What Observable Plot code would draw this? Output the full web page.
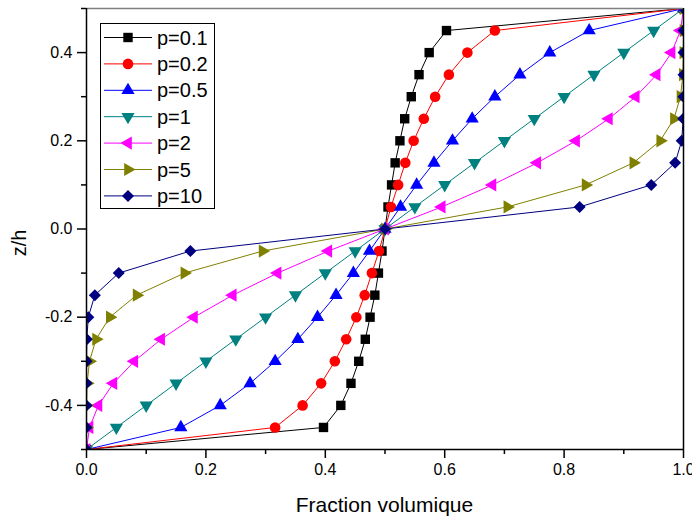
<!DOCTYPE html>
<html>
<head>
<meta charset="utf-8">
<script src="https://cdn.jsdelivr.net/npm/d3@7"></script>
<script src="https://cdn.jsdelivr.net/npm/@observablehq/plot@0.6"></script>
<style>
  html, body { margin: 0; padding: 0; background: #fff; }
  #chart { width: 692px; height: 519px; }
</style>
</head>
<body>
<div id="chart"></div>
<script>
// ---- data ----
const zValues = [-0.5, -0.45, -0.4, -0.35, -0.3, -0.25, -0.2, -0.15, -0.1, -0.05, 0, 0.05, 0.1, 0.15, 0.2, 0.25, 0.3, 0.35, 0.4, 0.45, 0.5];
const seriesNames = ["p=0.1", "p=0.2", "p=0.5", "p=1", "p=2", "p=5", "p=10"];
const vP01 = [0, 0.397, 0.426, 0.443, 0.456, 0.467, 0.475, 0.483, 0.489, 0.495, 0.5, 0.505, 0.511, 0.517, 0.525, 0.533, 0.544, 0.557, 0.574, 0.603, 1];
const vP02 = [0, 0.316, 0.362, 0.393, 0.416, 0.435, 0.452, 0.466, 0.478, 0.490, 0.5, 0.510, 0.522, 0.534, 0.548, 0.565, 0.584, 0.607, 0.638, 0.684, 1];
const vP05 = [0, 0.158, 0.224, 0.274, 0.316, 0.354, 0.387, 0.418, 0.447, 0.474, 0.5, 0.526, 0.553, 0.582, 0.613, 0.646, 0.684, 0.726, 0.776, 0.842, 1];
const vP1  = [0, 0.05, 0.10, 0.15, 0.20, 0.25, 0.30, 0.35, 0.40, 0.45, 0.5, 0.55, 0.60, 0.65, 0.70, 0.75, 0.80, 0.85, 0.90, 0.95, 1];
const vP2  = [0, 0.005, 0.02, 0.045, 0.08, 0.125, 0.18, 0.245, 0.32, 0.405, 0.5, 0.595, 0.68, 0.755, 0.82, 0.875, 0.92, 0.955, 0.98, 0.995, 1];
const vP5  = [0, 0.0, 0.0002, 0.001, 0.005, 0.016, 0.039, 0.084, 0.164, 0.295, 0.5, 0.705, 0.836, 0.916, 0.961, 0.984, 0.995, 0.999, 0.9998, 1.0, 1];
const vP10 = [0, 0, 0, 0, 0.0001, 0.0005, 0.003, 0.014, 0.054, 0.174, 0.5, 0.826, 0.946, 0.986, 0.997, 0.9995, 0.9999, 1, 1, 1, 1];
const seriesValues = [vP01, vP02, vP05, vP1, vP2, vP5, vP10];
const xMajorTicks = [0, 0.2, 0.4, 0.6, 0.8, 1.0];
const xMinorTicks = [0.1, 0.3, 0.5, 0.7, 0.9];
const yMajorTicks = [-0.4, -0.2, 0, 0.2, 0.4];
const yMinorTicks = [-0.5, -0.3, -0.1, 0.1, 0.3, 0.5];
const xTitle = "Fraction volumique";
const yTitle = "z/h";

// ---- styles ----
const colors = ["#000000", "#ff0000", "#0000ff", "#008080", "#ff00ff", "#808000", "#000080"];
const shapes = ["square", "circle", "tri-up", "tri-down", "tri-left", "tri-right", "diamond"];
const radii = [5.3, 5.3, 4.9, 4.9, 4.9, 4.9, 4.8];

function makeSymbol(kind) {
  if (kind === "square") return d3.symbolSquare;
  if (kind === "circle") return d3.symbolCircle;
  if (kind === "diamond") return {
    draw(ctx, size) {
      const R = Math.sqrt(size / 2);
      ctx.moveTo(0, -R); ctx.lineTo(R, 0); ctx.lineTo(0, R); ctx.lineTo(-R, 0); ctx.closePath();
    }
  };
  const ang = {"tri-up": -90, "tri-down": 90, "tri-left": 180, "tri-right": 0}[kind] * Math.PI / 180;
  return {
    draw(ctx, size) {
      const a = Math.sqrt(4 * size / Math.sqrt(3));
      const R = a / Math.sqrt(3);
      for (let k = 0; k < 3; k++) {
        const t = ang + k * 2 * Math.PI / 3;
        const px = R * Math.cos(t), py = R * Math.sin(t);
        if (k === 0) ctx.moveTo(px, py); else ctx.lineTo(px, py);
      }
      ctx.closePath();
    }
  };
}

const tables = seriesValues.map((vals, i) => zValues.map((z, j) => ({z, v: vals[j], s: seriesNames[i]})));

const W = 692, H = 519;
const mL = 86, mR = 9, mT = 8, mB = 70;

const marks = [];
tables.forEach((tbl, i) => {
  marks.push(Plot.line(tbl, {x: "v", y: "z", stroke: colors[i], strokeWidth: 1, clip: true}));
  marks.push(Plot.dot(tbl, {x: "v", y: "z", fill: colors[i], stroke: "none", r: radii[i], symbol: makeSymbol(shapes[i]), clip: true}));
});
marks.push(Plot.ruleY([0.5], {stroke: "#808080", strokeWidth: 1.5}));
marks.push(Plot.ruleX([1], {stroke: "#000", strokeWidth: 1.5}));
marks.push(Plot.ruleX([0], {stroke: "#000", strokeWidth: 1.5}));
marks.push(Plot.ruleY([-0.5], {stroke: "#000", strokeWidth: 1.5}));
marks.push(Plot.axisX(xMajorTicks, {tickSize: 9, tickPadding: 5, strokeWidth: 1.5, tickFormat: d => d.toFixed(1), label: null, fontSize: 16}));
marks.push(Plot.axisX(xMinorTicks, {tickSize: 5, strokeWidth: 1.5, text: null, label: null}));
marks.push(Plot.axisY(yMajorTicks, {tickSize: 9, tickPadding: 5, strokeWidth: 1.5, tickFormat: d => d.toFixed(1), label: null, fontSize: 16}));
marks.push(Plot.axisY(yMinorTicks, {tickSize: 5, strokeWidth: 1.5, text: null, label: null}));

const chart = Plot.plot({
  width: W, height: H,
  marginLeft: mL, marginRight: mR, marginTop: mT, marginBottom: mB,
  style: {fontFamily: "'Liberation Sans', Arial, sans-serif", fontSize: "16px", color: "#000", background: "#fff"},
  x: {domain: [0, 1], label: null},
  y: {domain: [-0.5, 0.5], label: null},
  marks
});
document.getElementById("chart").appendChild(chart);

// ---- titles and legend ----
const svg = d3.select(chart);
const ff = "'Liberation Sans', Arial, sans-serif";
svg.selectAll("text").style("font-size", "16px").style("font-family", ff);
svg.append("text").attr("x", (mL + W - mR) / 2).attr("y", 512)
  .attr("text-anchor", "middle").style("font-family", ff).style("font-size", "21px").attr("fill", "#000").text(xTitle);
svg.append("text").attr("transform", `translate(26,243) rotate(-90)`)
  .attr("text-anchor", "middle").style("font-family", ff).style("font-size", "20px").attr("fill", "#000").text(yTitle);

const lg = svg.append("g");
lg.append("rect").attr("x", 100.5).attr("y", 23.5).attr("width", 114).attr("height", 185)
  .attr("fill", "#fff").attr("stroke", "#000").attr("stroke-width", 1);
seriesNames.forEach((name, i) => {
  const y = 37.5 + i * 26.4;
  lg.append("line").attr("x1", 104).attr("x2", 152).attr("y1", y).attr("y2", y).attr("stroke", colors[i]).attr("stroke-width", 1);
  lg.append("path").attr("transform", `translate(128,${y})`)
    .attr("d", d3.symbol(makeSymbol(shapes[i]), radii[i] * radii[i] * Math.PI)())
    .attr("fill", colors[i]);
  lg.append("text").attr("x", 157).attr("y", y).attr("dy", "0.35em").attr("text-anchor", "start")
    .style("font-family", ff).style("font-size", "20px").attr("fill", "#000").text(name);
});
</script>
</body>
</html>
